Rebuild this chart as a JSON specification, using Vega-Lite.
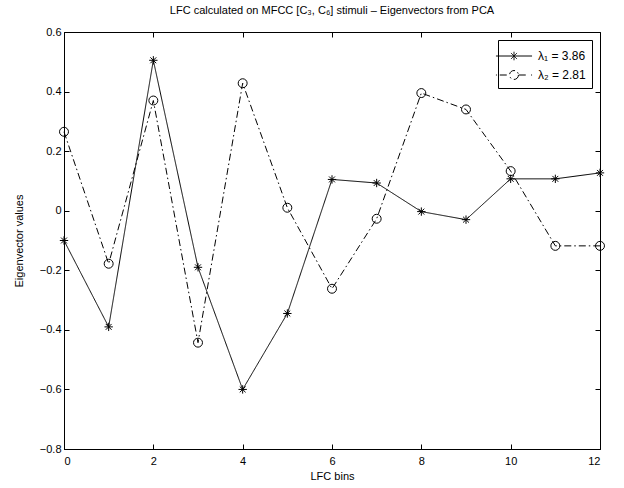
{
  "$schema": "https://vega.github.io/schema/vega-lite/v6.json",
  "autosize": {"type": "none"},
  "width": 536,
  "height": 417,
  "padding": {"left": 64, "top": 32, "right": 24, "bottom": 39},
  "background": "white",
  "title": {"text": "LFC calculated on MFCC [C₃, C₆] stimuli – Eigenvectors from PCA", "fontSize": 11, "fontWeight": "normal", "font": "Liberation Sans", "anchor": "middle", "offset": 10, "color": "black"},
  "config": {
    "view": {"stroke": "black", "strokeWidth": 1},
    "axis": {"grid": false, "domainColor": "black", "tickColor": "black", "labelColor": "black", "titleColor": "black", "labelFont": "Liberation Sans", "titleFont": "Liberation Sans", "labelFontSize": 11, "titleFontSize": 11, "titleFontWeight": "normal", "tickSize": -5, "labelPadding": 8},
    "legend": {"labelFont": "Liberation Sans", "labelFontSize": 12, "labelColor": "black"}
  },
  "data": {"values": [
    {"bin": 0, "value": -0.10, "series": "λ₁ = 3.86"},
    {"bin": 1, "value": -0.39, "series": "λ₁ = 3.86"},
    {"bin": 2, "value": 0.505, "series": "λ₁ = 3.86"},
    {"bin": 3, "value": -0.19, "series": "λ₁ = 3.86"},
    {"bin": 4, "value": -0.60, "series": "λ₁ = 3.86"},
    {"bin": 5, "value": -0.345, "series": "λ₁ = 3.86"},
    {"bin": 6, "value": 0.105, "series": "λ₁ = 3.86"},
    {"bin": 7, "value": 0.093, "series": "λ₁ = 3.86"},
    {"bin": 8, "value": -0.003, "series": "λ₁ = 3.86"},
    {"bin": 9, "value": -0.03, "series": "λ₁ = 3.86"},
    {"bin": 10, "value": 0.107, "series": "λ₁ = 3.86"},
    {"bin": 11, "value": 0.107, "series": "λ₁ = 3.86"},
    {"bin": 12, "value": 0.127, "series": "λ₁ = 3.86"},
    {"bin": 0, "value": 0.265, "series": "λ₂ = 2.81"},
    {"bin": 1, "value": -0.178, "series": "λ₂ = 2.81"},
    {"bin": 2, "value": 0.37, "series": "λ₂ = 2.81"},
    {"bin": 3, "value": -0.443, "series": "λ₂ = 2.81"},
    {"bin": 4, "value": 0.428, "series": "λ₂ = 2.81"},
    {"bin": 5, "value": 0.01, "series": "λ₂ = 2.81"},
    {"bin": 6, "value": -0.262, "series": "λ₂ = 2.81"},
    {"bin": 7, "value": -0.027, "series": "λ₂ = 2.81"},
    {"bin": 8, "value": 0.395, "series": "λ₂ = 2.81"},
    {"bin": 9, "value": 0.34, "series": "λ₂ = 2.81"},
    {"bin": 10, "value": 0.133, "series": "λ₂ = 2.81"},
    {"bin": 11, "value": -0.118, "series": "λ₂ = 2.81"},
    {"bin": 12, "value": -0.118, "series": "λ₂ = 2.81"}
  ]},
  "resolve": {"axis": {"x": "independent", "y": "independent"}},
  "layer": [
    {
      "mark": {"type": "line", "strokeWidth": 1},
      "encoding": {
        "x": {"field": "bin", "type": "quantitative", "scale": {"domain": [0, 12], "nice": false, "zero": false},
              "axis": {"orient": "bottom", "values": [0, 2, 4, 6, 8, 10, 12], "title": "LFC bins", "titlePadding": 4, "labelPadding": 11}},
        "y": {"field": "value", "type": "quantitative", "scale": {"domain": [-0.8, 0.6], "nice": false, "zero": false},
              "axis": {"orient": "left", "values": [-0.8, -0.6, -0.4, -0.2, 0, 0.2, 0.4, 0.6], "title": "Eigenvector values", "labelExpr": "datum.value == 0 ? '0' : format(datum.value, '.1f')", "titlePadding": 15}},
        "strokeDash": {"field": "series", "type": "nominal",
          "scale": {"domain": ["λ₁ = 3.86", "λ₂ = 2.81"], "range": [[1, 0], [7, 3, 1.5, 3]]},
          "legend": null},
        "color": {"field": "series", "type": "nominal",
          "scale": {"domain": ["λ₁ = 3.86", "λ₂ = 2.81"], "range": ["black", "black"]},
          "legend": {"title": null, "orient": "top-right", "offset": 8, "padding": 6, "strokeColor": "black", "fillColor": "white", "symbolSize": 361, "labelOffset": 14, "rowPadding": 2, "symbolStrokeWidth": 1,
            "encode": {"symbols": {"update": {
              "shape": {"signal": "indexof(datum.label, '₁') >= 0 ? 'M-1.9,0L1.9,0M0,-0.45L0,0.45M-0.32,-0.32L0.32,0.32M-0.32,0.32L0.32,-0.32' : 'M-1.9,0L-1.8,0M-1.5,0L-0.5,0M0.5,0L1.5,0M1.8,0L1.9,0M0.47,0A0.47,0.47 0 1,1 -0.47,0A0.47,0.47 0 1,1 0.47,0'"},
              "stroke": {"value": "black"},
              "fill": {"value": "transparent"}
            }}}}
        }
      }
    },
    {
      "transform": [{"filter": "datum.series == 'λ₁ = 3.86'"}],
      "mark": {"type": "point", "filled": false, "color": "black", "strokeWidth": 1, "opacity": 1, "size": 70, "shape": "M-1,0L1,0M0,-1L0,1M-0.7,-0.7L0.7,0.7M-0.7,0.7L0.7,-0.7"},
      "encoding": {
        "x": {"field": "bin", "type": "quantitative",
              "axis": {"orient": "top", "values": [0, 2, 4, 6, 8, 10, 12], "labels": false, "title": null, "domain": false}},
        "y": {"field": "value", "type": "quantitative",
              "axis": {"orient": "right", "values": [-0.8, -0.6, -0.4, -0.2, 0, 0.2, 0.4, 0.6], "labels": false, "title": null, "domain": false}}
      }
    },
    {
      "transform": [{"filter": "datum.series == 'λ₂ = 2.81'"}],
      "mark": {"type": "point", "filled": false, "color": "black", "strokeWidth": 1, "opacity": 1, "size": 80, "shape": "circle"},
      "encoding": {
        "x": {"field": "bin", "type": "quantitative", "axis": null},
        "y": {"field": "value", "type": "quantitative", "axis": null}
      }
    }
  ]
}
